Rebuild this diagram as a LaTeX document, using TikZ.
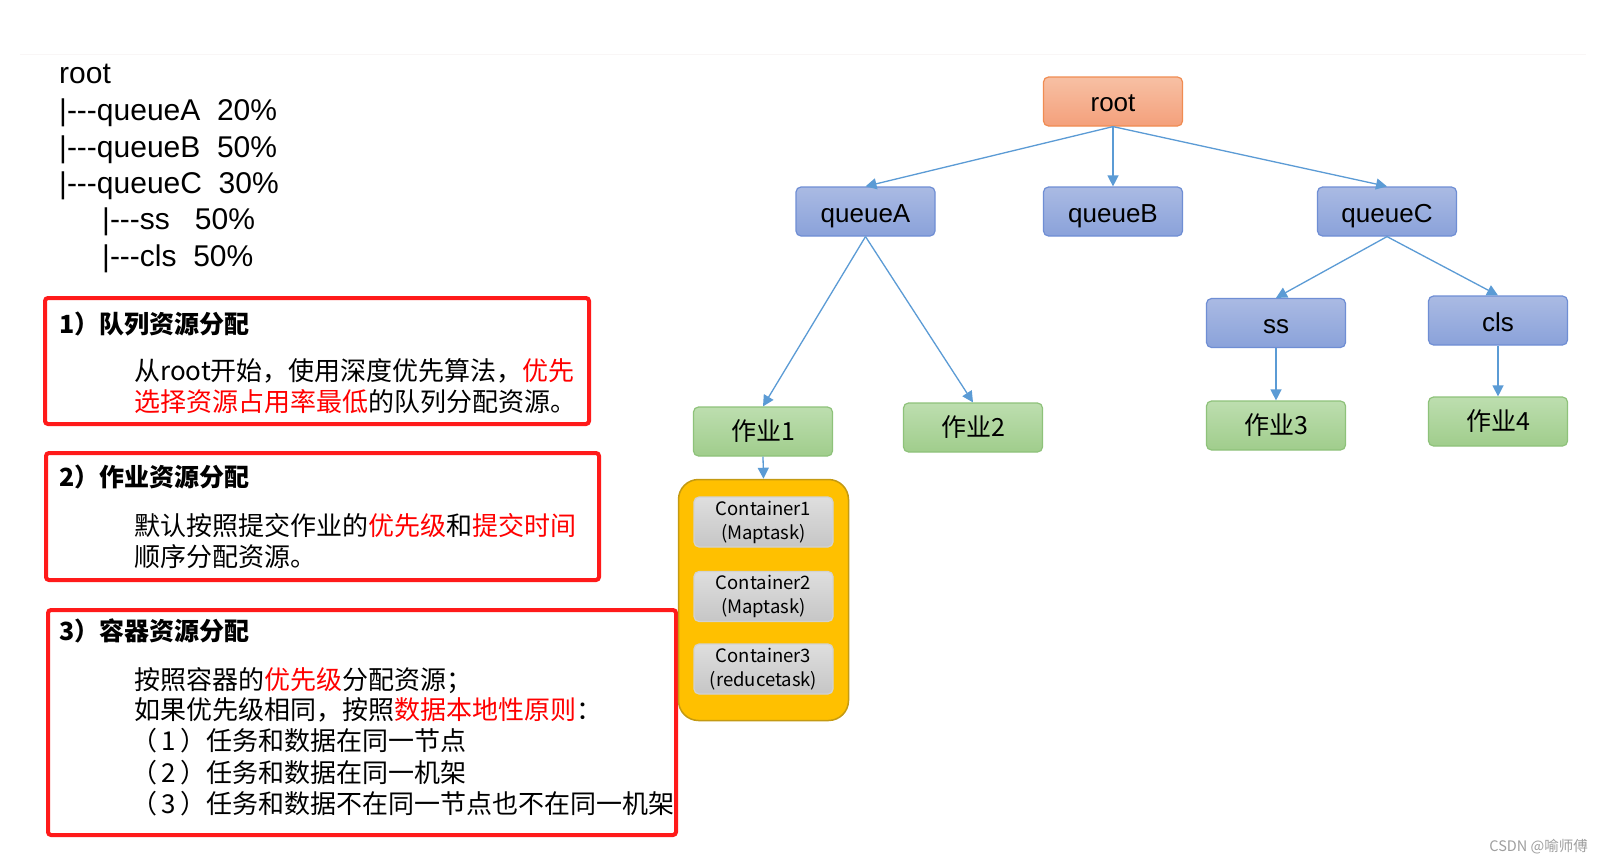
\documentclass[tikz,border=0pt]{standalone}
\usepackage{fontspec}
\setmainfont{Liberation Sans}
\newfontfamily\cjk{Noto Sans CJK SC}
\usetikzlibrary{arrows.meta}
\definecolor{edgeblue}{HTML}{5B9BD5}
\definecolor{qtop}{HTML}{AABAE3}
\definecolor{qbot}{HTML}{8AA2DA}
\definecolor{qborder}{HTML}{6F8ED4}
\definecolor{rtop}{HTML}{F7C0A4}
\definecolor{rbot}{HTML}{F4A07B}
\definecolor{rborder}{HTML}{F08C52}
\definecolor{gtop}{HTML}{BDDEAF}
\definecolor{gbot}{HTML}{A0CD8C}
\definecolor{gborder}{HTML}{8EC27A}
\definecolor{ctop}{HTML}{DEDEDE}
\definecolor{cbot}{HTML}{C6C6C6}
\definecolor{cborder}{HTML}{D2D2D2}
\definecolor{gold}{HTML}{FFC000}
\definecolor{goldborder}{HTML}{C49A12}
\definecolor{redbox}{HTML}{FF1A1A}
\definecolor{redtxt}{HTML}{FF0000}
\definecolor{faint}{HTML}{F9F6F6}
\newcommand{\hl}[1]{\textcolor{redtxt}{#1}}
\newcommand{\ddd}{{-}{-}{-}}
\begin{document}
\begin{tikzpicture}[x=1pt,y=-1pt,
  box/.style={rounded corners=5pt, minimum width=139pt, minimum height=49pt, line width=1.2pt, inner sep=0pt},
  qbox/.style={box, draw=qborder, top color=qtop, bottom color=qbot, text height=21pt, text depth=0pt, font=\fontsize{26}{30}\selectfont},
  rbox/.style={box, draw=rborder, top color=rtop, bottom color=rbot, text height=19pt, text depth=0pt, font=\fontsize{26}{30}\selectfont},
  jbox/.style={box, draw=gborder, top color=gtop, bottom color=gbot, font=\cjk\fontsize{25}{30}\selectfont},
  cbox/.style={box, minimum height=50pt, draw=cborder, top color=ctop, bottom color=cbot, align=center, font=\cjk\fontsize{18.5}{24}\selectfont},
  holder/.style={rounded corners=20pt, minimum width=170pt, minimum height=241pt, fill=gold, draw=goldborder, line width=1.5pt},
  edge/.style={draw=edgeblue, line width=1.3pt, -{Triangle[width=11pt,length=11pt]}},
  treetxt/.style={anchor=base west, inner sep=0pt, font=\fontsize{30}{36}\selectfont},
  frame/.style={draw=redbox, line width=4pt, rounded corners=3pt},
  head/.style={anchor=base west, inner sep=0pt, font=\cjk\bfseries\fontsize{25}{30}\selectfont},
  body/.style={anchor=base west, inner sep=0pt, font=\cjk\fontsize{26}{31}\selectfont}
]
\useasboundingbox (0,0) rectangle (1603,862);
\fill[white] (0,0) rectangle (1603,862);
\draw[faint, line width=1pt] (20,54) -- (1586,54);

% left tree text
\node[treetxt] (t1) at (59,83) {root};
\node[treetxt] (t2) at (59,120) {|\ddd queueA\ \ 20\%};
\node[treetxt] (t3) at (59,157) {|\ddd queueB\ \ 50\%};
\node[treetxt] (t4) at (59,193.5) {|\ddd queueC\ \ 30\%};
\node[treetxt] (t5) at (102,229.5) {|\ddd ss\ \ \ 50\%};
\node[treetxt] (t6) at (102,266) {|\ddd cls\ \ 50\%};

% red frames
\draw[frame] (45,298) rectangle (589,424);
\draw[frame] (46,453) rectangle (599,580);
\draw[frame] (48,610) rectangle (676,835);

\node[head] (h1) at (59,333) {1）队列资源分配};
\node[body] (b11) at (134,380) {从root开始，使用深度优先算法，\hl{优先}};
\node[body] (b12) at (134,411) {\hl{选择资源占用率最低}的队列分配资源。};

\node[head] (h2) at (59,486) {2）作业资源分配};
\node[body] (b21) at (134,535) {默认按照提交作业的\hl{优先级}和\hl{提交时间}};
\node[body] (b22) at (134,566) {顺序分配资源。};

\node[head] (h3) at (59,640) {3）容器资源分配};
\node[body] (b31) at (134,689) {按照容器的\hl{优先级}分配资源；};
\node[body] (b32) at (134,719.5) {如果优先级相同，按照\hl{数据本地性原则}：};
\node[body] (b33) at (131,750) {（\,1\,）任务和数据在同一节点};
\node[body] (b34) at (131,782) {（\,2\,）任务和数据在同一机架};
\node[body] (b35) at (131,813.5) {（\,3\,）任务和数据不在同一节点也不在同一机架};

% tree diagram
\node[rbox] (root) at (1113,101.5) {root};
\node[qbox] (qA) at (865.5,211.5) {queueA};
\node[qbox] (qB) at (1113,211.5) {queueB};
\node[qbox] (qC) at (1387,211.5) {queueC};
\node[qbox] (ss) at (1276,323) {ss};
\node[qbox] (cls) at (1498,320.5) {cls};
\node[jbox] (j1) at (763,431.5) {作业1};
\node[jbox] (j2) at (973,427.5) {作业2};
\node[jbox] (j3) at (1276,425.5) {作业3};
\node[jbox] (j4) at (1498,421.5) {作业4};

\node[holder] (hold) at (763.5,600) {};
\node[cbox] (c1) at (763.5,522) {Container1\\(Maptask)};
\node[cbox] (c2) at (763.5,596.5) {Container2\\(Maptask)};
\node[cbox] (c3) at (763.5,669) {Container3\\(reducetask)};

\draw[edge] (root.south) -- (qA.north);
\draw[edge] (root.south) -- (qB.north);
\draw[edge] (root.south) -- (qC.north);
\draw[edge] (qA.south) -- (j1.north);
\draw[edge] (qA.south) -- (j2.north);
\draw[edge] (qC.south) -- (ss.north);
\draw[edge] (qC.south) -- (cls.north);
\draw[edge] (ss.south) -- (j3.north);
\draw[edge] (cls.south) -- (j4.north);
\draw[edge] (j1.south) -- (hold.north);

\node[anchor=base east, inner sep=0pt, text=gray!75, font=\cjk\fontsize{14.5}{16}\selectfont] (wm) at (1588,851) {CSDN @喻师傅};
\end{tikzpicture}
\end{document}
